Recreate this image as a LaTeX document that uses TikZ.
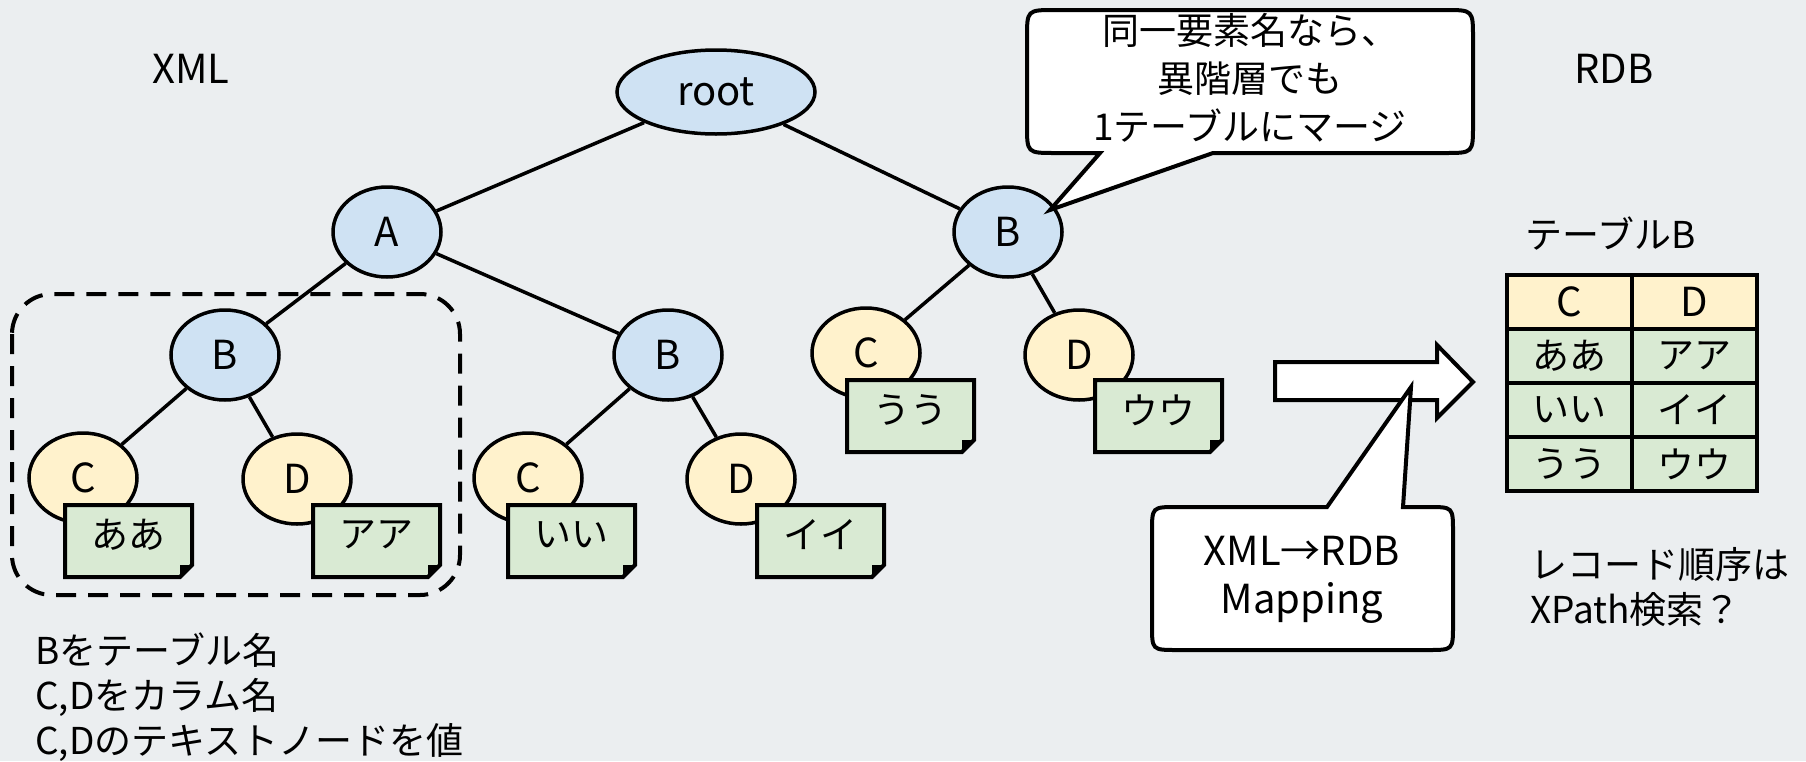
\documentclass[tikz,border=0pt]{standalone}
\usepackage{fontspec}
\setmainfont{Noto Sans CJK JP}
\usetikzlibrary{shapes.geometric,backgrounds}
\pgfdeclarelayer{canvas}
\pgfsetlayers{canvas,background,main}

\definecolor{bgcol}{RGB}{235,238,240}
\definecolor{elemblue}{RGB}{207,226,243}
\definecolor{leafcream}{RGB}{255,242,204}
\definecolor{notegreen}{RGB}{217,234,211}

\tikzset{
  elem/.style={ellipse, draw=black, line width=3.5pt, fill=elemblue,
    minimum width=108pt, minimum height=90pt, inner sep=0pt,
    font=\fontsize{40}{48}\selectfont},
  leaf/.style={elem, fill=leafcream},
  branch/.style={line width=3.5pt},
  noteshape/.style={draw=black, fill=notegreen, line width=4pt, line join=miter},
  notetext/.style={font=\fontsize{37}{44}\selectfont, inner sep=0pt},
  latin/.style={font=\fontsize{40}{48}\selectfont, inner sep=0pt},
  jtext/.style={font=\fontsize{37}{45}\selectfont, inner sep=0pt, align=left},
  bubble/.style={draw=black, fill=white, line width=4pt, line join=miter},
  cell/.style={draw=black, line width=4.5pt, minimum width=125pt,
    minimum height=54pt, inner sep=0pt, fill=notegreen,
    font=\fontsize{37}{44}\selectfont},
  headcell/.style={cell, fill=leafcream, font=\fontsize{40}{48}\selectfont},
  group/.style={draw=black, line width=4pt, dash pattern=on 20pt off 12pt,
    rounded corners=40pt},
}

% text value note with a folded corner: name, left x, top y, text
\newcommand\valuenote[4]{%
  \draw[noteshape] (#2,#3) -- ++(127,0) -- ++(0,60) -- ++(-12,12)
    -- ++(-115,0) -- cycle;
  \fill[black] (#2+127,#3+60) -- ++(-12,12) -- ++(0,-12) -- cycle;
  \node[notetext] (#1) at (#2+63.5,#3+30) {#4};
}

\begin{document}
\begin{tikzpicture}[x=1pt, y=-1pt]
\useasboundingbox (0,0) rectangle (1806,761);
\begin{pgfonlayer}{canvas}
  \fill[bgcol] (0,0) rectangle (1806,761);
\end{pgfonlayer}

% headings
\node[latin] (xml) at (191,69) {XML};
\node[latin] (rdb) at (1614,69) {RDB};

% XML tree
\node[elem, minimum width=198pt, minimum height=84pt] (root) at (716,92) {root};
\node[elem] (A)  at (387,232)  {A};
\node[elem] (B3) at (1008,232) {B};
\node[elem] (B1) at (225,355)  {B};
\node[elem] (B2) at (668,355)  {B};
\node[leaf] (C1) at (83,478)   {C};
\node[leaf] (D1) at (297,479)  {D};
\node[leaf] (C2) at (528,478)  {C};
\node[leaf] (D2) at (741,479)  {D};
\node[leaf] (C3) at (866,353)  {C};
\node[leaf] (D3) at (1079,355) {D};

\begin{scope}[on background layer]
  \draw[branch] (root) -- (A);
  \draw[branch] (root) -- (B3);
  \draw[branch] (A) -- (B1);
  \draw[branch] (A) -- (B2);
  \draw[branch] (B1) -- (C1);
  \draw[branch] (B1) -- (D1);
  \draw[branch] (B2) -- (C2);
  \draw[branch] (B2) -- (D2);
  \draw[branch] (B3) -- (C3);
  \draw[branch] (B3) -- (D3);
\end{scope}

% text node values
\valuenote{v1}{65}{505}{ああ}
\valuenote{v2}{313}{505}{アア}
\valuenote{v3}{508}{505}{いい}
\valuenote{v4}{757}{505}{イイ}
\valuenote{v5}{847}{380}{うう}
\valuenote{v6}{1095}{380}{ウウ}

% subtree that becomes one table
\draw[group] (12,294) rectangle (460,595);
\node[jtext, anchor=north west] (legend) at (35,633)
  {Bをテーブル名\\C,Dをカラム名\\C,Dのテキストノードを値};

% merge remark
\coordinate (tip1) at (1050,210);
\draw[bubble] (1055,10) -- (1445,10) .. controls (1473,10) .. (1473,38)
  -- (1473,125) .. controls (1473,153) .. (1445,153) -- (1213,153)
  -- (tip1) -- (1100,153) -- (1055,153) .. controls (1027,153) .. (1027,125)
  -- (1027,38) .. controls (1027,10) .. (1055,10) -- cycle;
\node[jtext, align=center, font=\fontsize{37}{48}\selectfont] (merge) at (1250,78)
  {同一要素名なら、\\異階層でも\\1テーブルにマージ};

% mapping arrow
\draw[bubble] (1275,362) -- (1437,362) -- (1437,345) -- (1473,382)
  -- (1437,418) -- (1437,400) -- (1275,400) -- cycle;
\coordinate (tip2) at (1411,387);
\draw[bubble] (1177,507) -- (1327,507) -- (tip2) -- (1403,507) -- (1428,507)
  .. controls (1453,507) .. (1453,532) -- (1453,625)
  .. controls (1453,650) .. (1428,650) -- (1177,650)
  .. controls (1152,650) .. (1152,625) -- (1152,532)
  .. controls (1152,507) .. (1177,507) -- cycle;
\node[jtext, align=center, font=\fontsize{40}{48}\selectfont] (mapping) at (1302,580)
  {XML→RDB\\Mapping};

% resulting table
\node[jtext, anchor=west] (tname) at (1525,234) {テーブルB};
\node[headcell] (h1) at (1569.5,302) {C};
\node[headcell] (h2) at (1694.5,302) {D};
\node[cell] (r11) at (1569.5,356) {ああ};
\node[cell] (r12) at (1694.5,356) {アア};
\node[cell] (r21) at (1569.5,410) {いい};
\node[cell] (r22) at (1694.5,410) {イイ};
\node[cell] (r31) at (1569.5,464) {うう};
\node[cell] (r32) at (1694.5,464) {ウウ};
\node[jtext, anchor=north west] (order) at (1530,547)
  {レコード順序は\\XPath検索？};
\end{tikzpicture}
\end{document}
